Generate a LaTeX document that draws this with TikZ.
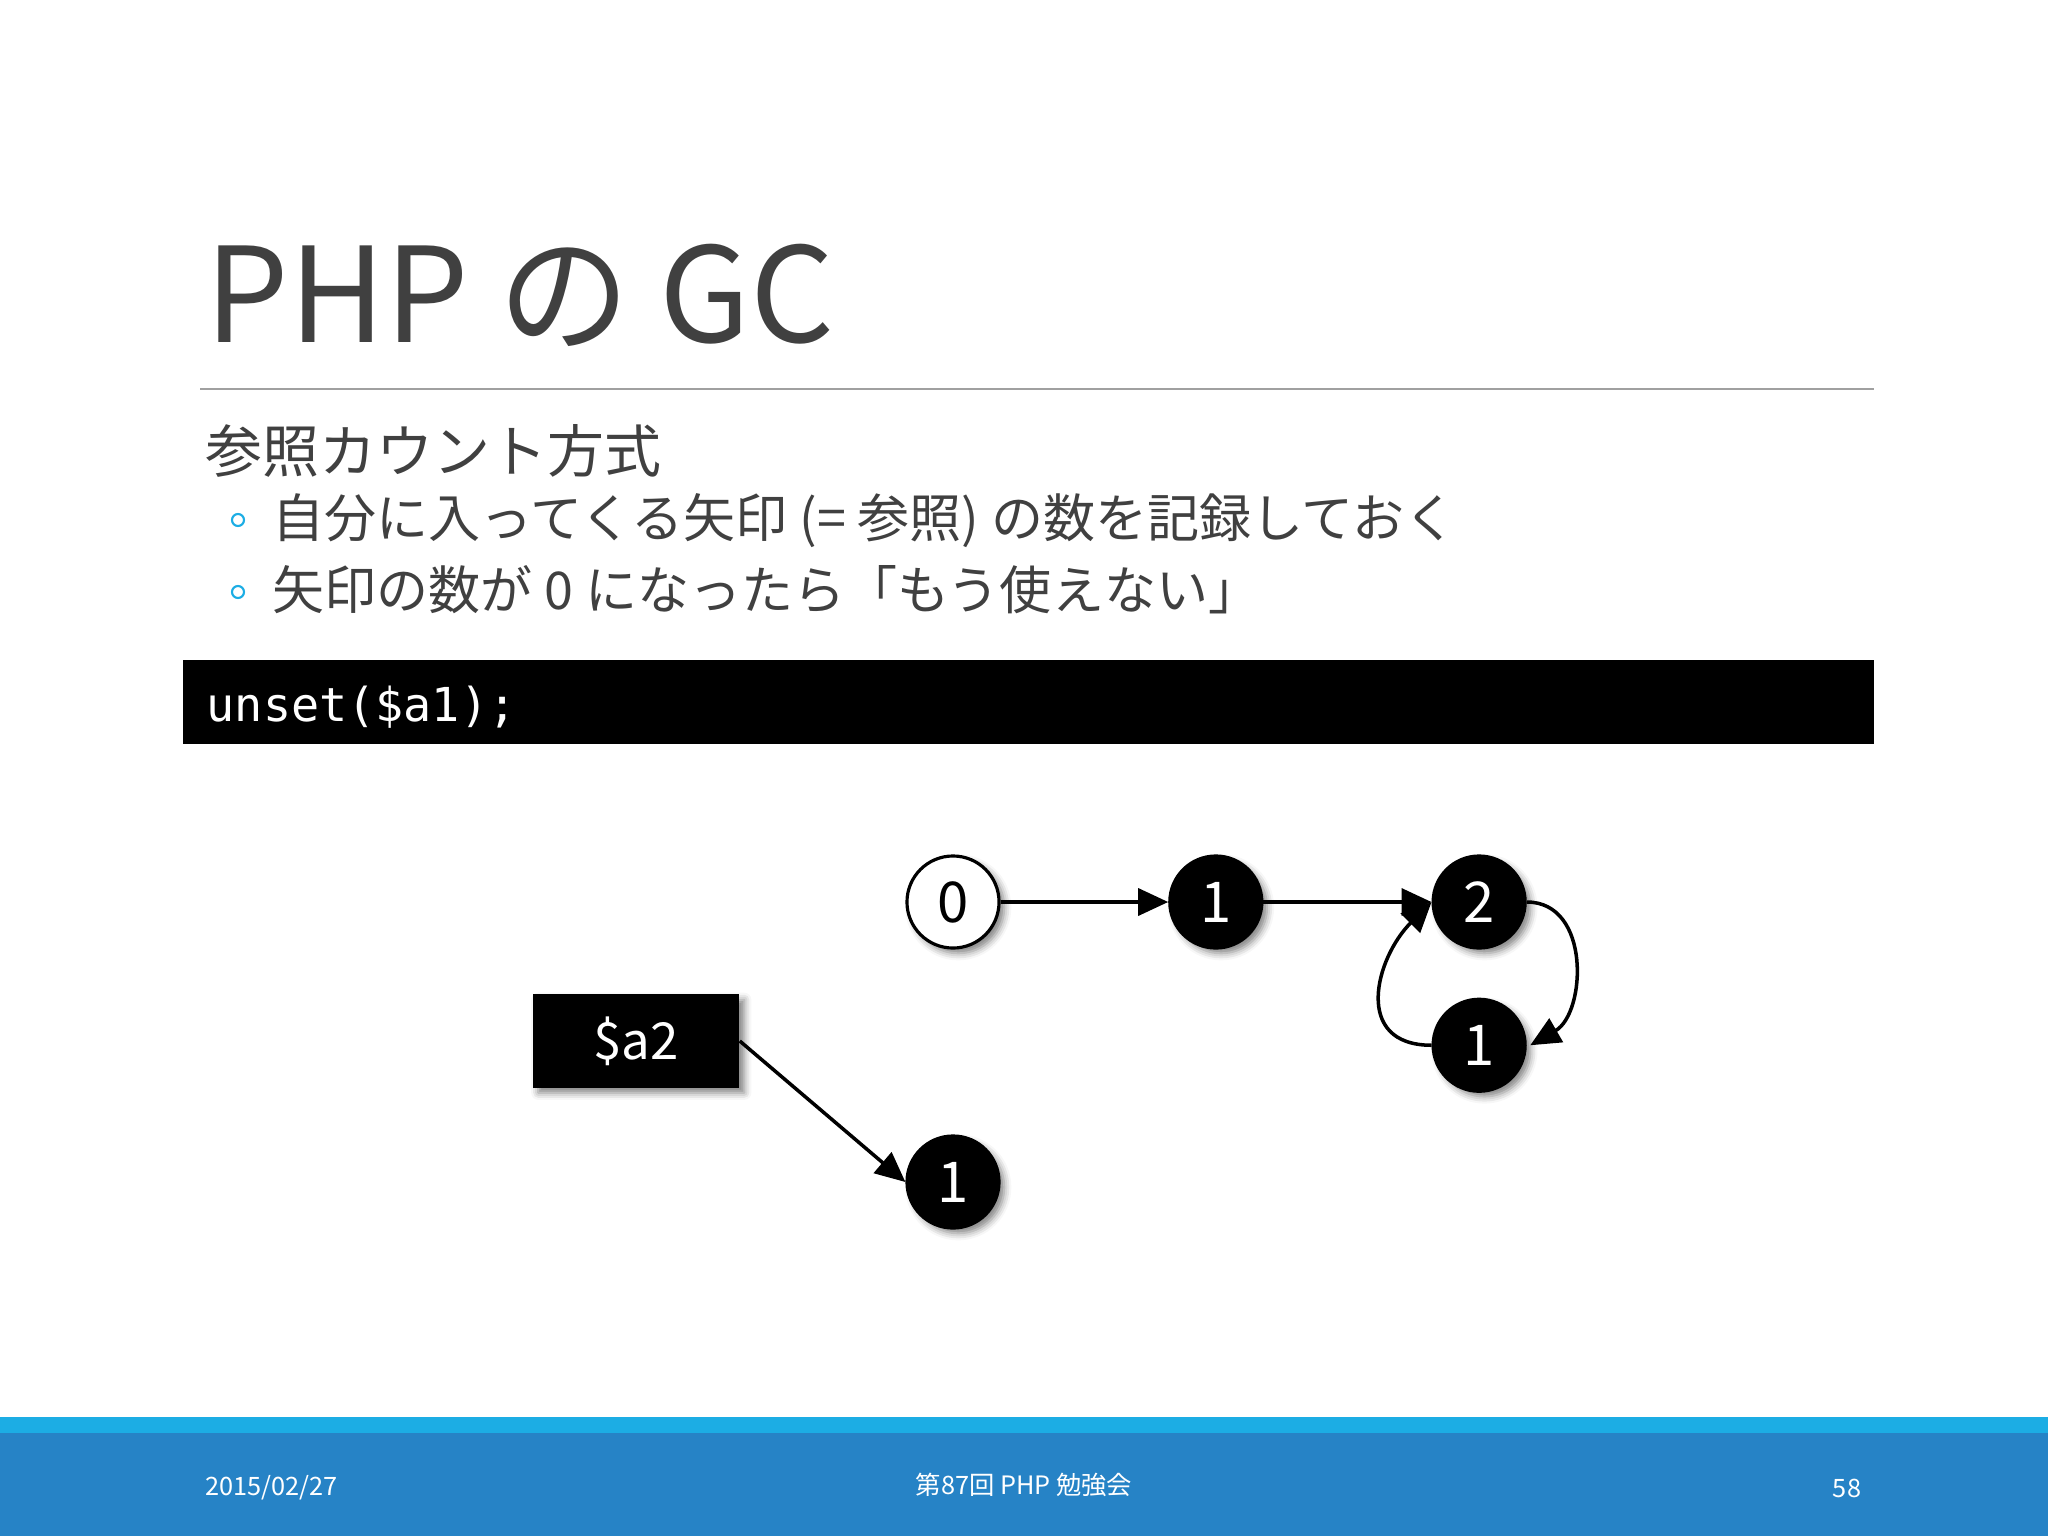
\documentclass[tikz,border=0pt]{standalone}
\usepackage{fontspec}
\setmainfont{Noto Sans CJK JP}
\newfontfamily\codefont{DejaVu Sans Mono}
\usetikzlibrary{arrows.meta,positioning,shadows.blur}
\definecolor{slidegray}{RGB}{64,64,64}
\definecolor{rulegray}{RGB}{160,160,160}
\definecolor{footblue}{RGB}{38,131,198}
\definecolor{footcyan}{RGB}{28,173,228}

\begin{document}
\begin{tikzpicture}[
    x=0.01cm, y=-0.01cm,
    slidetext/.style={anchor=base west, inner sep=0, text=slidegray},
    ref/.style={circle, minimum size=0.92cm, inner sep=0, draw=black, line width=0.9pt, font=\fontsize{16}{16}\selectfont, blur shadow={shadow xshift=1.5pt, shadow yshift=-1.5pt, shadow blur radius=2pt, shadow opacity=50}},
    live/.style={ref, fill=black, text=white},
    dead/.style={ref, fill=white, text=black},
    var/.style={rectangle, fill=black, text=white, minimum width=2.06cm, minimum height=0.93cm, inner sep=0, font=\fontsize{14.5}{14.5}\selectfont, blur shadow={shadow xshift=1.5pt, shadow yshift=-1.5pt, shadow blur radius=2pt, shadow opacity=50}},
    dot/.style={circle, draw=footcyan, line width=0.6pt, minimum size=0.12cm, inner sep=0},
    foot/.style={text=white, inner sep=0, font=\fontsize{7.2}{7.2}\selectfont},
    arrow/.style={-{Triangle[length=0.3cm,width=0.27cm]}, line width=1pt}
]
    \useasboundingbox (0,0) rectangle (2048,1536);

    % slide text
    \node[slidetext, font=\fontsize{37.5}{37.5}\selectfont] (title) at (205,342) {PHP の GC};
    \draw[rulegray, line width=0.4pt] (200,389) -- (1874,389);
    \node[slidetext, font=\fontsize{16.2}{16.2}\selectfont] (sub) at (205,472) {参照カウント方式};
    \node[dot] (b1) at (238,520) {};
    \node[dot] (b2) at (238,592) {};
    \node[slidetext, font=\fontsize{14.8}{14.8}\selectfont] (item1) at (272,537) {自分に入ってくる矢印 (= 参照) の数を記録しておく};
    \node[slidetext, font=\fontsize{14.8}{14.8}\selectfont] (item2) at (272,609) {矢印の数が 0 になったら「もう使えない」};

    % code bar
    \fill[black] (183,660) rectangle (1874,744);
    \node[anchor=base west, inner sep=0, text=white, font=\codefont\fontsize{13.3}{13.3}\selectfont] (code) at (206,721) {unset(\$a1);};

    % references
    \node[dead] (c0) at (953,902) {0};
    \node[live] (c1) [right=1.675cm of c0] {1};
    \node[live] (c2) [right=1.68cm of c1] {2};
    \node[live] (c3) [below=0.48cm of c2] {1};
    \node[var] (a2) at (636,1041) {\$a2};
    \node[live] (c4) at (953,1182) {1};

    \draw[arrow] (c0) -- (c1);
    \draw[arrow] (c1) -- (c2);
    \draw[arrow] (c2.east) to[out=0, in=30, looseness=1.15] ([xshift=1pt]c3.east);
    \draw[arrow] (c3.west) to[out=180, in=225, looseness=1.42] (c2.west);
    \draw[arrow] (a2.east) -- (c4.west);

    % footer
    \fill[footcyan] (0,1417) rectangle (2048,1433);
    \fill[footblue] (0,1433) rectangle (2048,1536);
    \node[foot, anchor=west] (date) at (205,1488) {2015/02/27};
    \node[foot] (event) at (1024,1485) {第87回 PHP 勉強会};
    \node[foot] (page) at (1847,1488) {58};
\end{tikzpicture}
\end{document}
